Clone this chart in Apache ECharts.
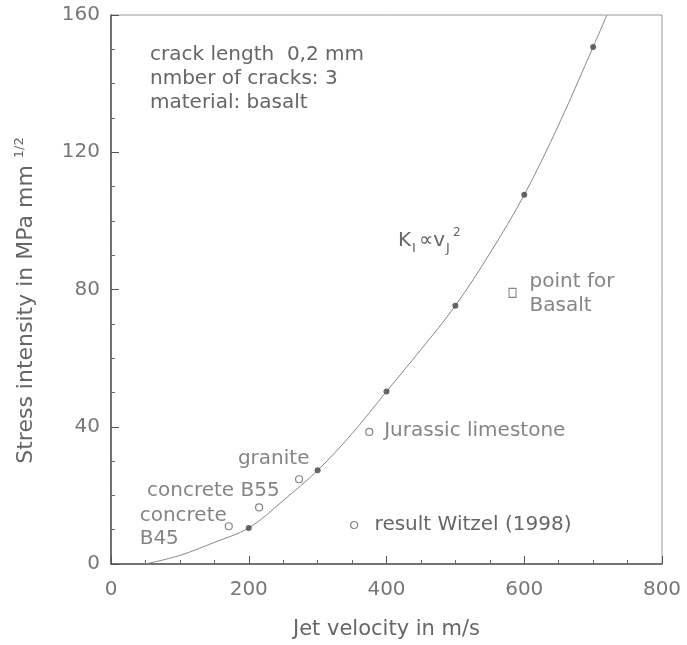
<!DOCTYPE html>
<html>
<head>
<meta charset="utf-8">
<script src="https://cdn.jsdelivr.net/npm/echarts@6/dist/echarts.min.js"></script>
<style>
  html, body { margin: 0; padding: 0; background: #fff; }
  #chart { width: 687px; height: 645px; }
</style>
</head>
<body>
<div id="chart"></div>
<script>
// Calculated stress intensity for basalt (filled dots)
const calcVelocity = [200, 300, 400, 500, 600, 700];
const calcStress = [10.5, 27.3, 50.3, 75.3, 107.6, 150.7];

// Fitted curve K_I ~ v_J^2
const curveVelocity = [50, 100, 150, 200, 250, 300, 350, 400, 450, 500, 550, 600, 650, 700, 720];
const curveStress = [0, 2.5, 6.3, 10.5, 18.5, 27.3, 38, 50.3, 62.5, 75.3, 90.5, 107.6, 128, 150.7, 160];

// Experimental results, Witzel (1998)
const witzelNames = ['concrete\nB45', 'concrete B55', 'granite', 'Jurassic limestone'];
const witzelVelocity = [171, 215, 273, 375];
const witzelStress = [11, 16.5, 24.7, 38.5];

// Single basalt point
const basaltName = 'point for\nBasalt';
const basaltVelocity = [583];
const basaltStress = [79];

const xTicks = [0, 200, 400, 600, 800];
const yTicks = [0, 40, 80, 120, 160];

const FONT = 'DejaVu Sans';
const TXT = '#666';

// label offsets for each Witzel point (relative to symbol box)
const witzelLabelPos = [[-85, 5], [-108, -12], [-57, -16], [19, 3]];

const chart = echarts.init(document.getElementById('chart'), null, { renderer: 'canvas' });

const labelStyle = { color: TXT, fontSize: 20, fontFamily: FONT };

const option = {
  backgroundColor: '#fff',
  animation: false,
  grid: {
    left: 111, right: 25, top: 15, bottom: 80,
    show: true, borderColor: '#999', borderWidth: 1
  },
  legend: {
    data: [{ name: 'result Witzel (1998)', icon: 'circle',
             itemStyle: { color: '#fff', borderColor: '#666', borderWidth: 1.2 } }],
    left: 345, top: 510,
    itemWidth: 7, itemHeight: 7,
    selectedMode: false,
    textStyle: { color: TXT, fontSize: 20, fontFamily: FONT, padding: [0, 0, 0, 12] }
  },
  xAxis: {
    type: 'value', min: xTicks[0], max: xTicks[xTicks.length - 1], interval: 200,
    name: 'Jet velocity in m/s', nameLocation: 'middle', nameGap: 55,
    nameTextStyle: { color: TXT, fontSize: 21, fontFamily: FONT },
    axisLine: { show: true, onZero: false, lineStyle: { color: '#555', width: 1.5 } },
    axisTick: { show: true, inside: true, length: 8, lineStyle: { color: '#555' } },
    minorTick: { show: true, splitNumber: 4, length: 4, lineStyle: { color: '#666' } },
    axisLabel: { color: '#777', fontSize: 20, fontFamily: FONT, margin: 16 },
    splitLine: { show: false }
  },
  yAxis: {
    type: 'value', min: yTicks[0], max: yTicks[yTicks.length - 1], interval: 40,
    name: '{t|Stress intensity in MPa mm }{s|1/2}',
    nameLocation: 'middle', nameGap: 74, nameRotate: 90,
    nameTextStyle: {
      color: TXT, fontSize: 22, fontFamily: FONT, padding: [0, 22, 0, 0],
      rich: {
        t: { color: TXT, fontSize: 22, fontFamily: FONT, lineHeight: 24, verticalAlign: 'bottom' },
        s: { color: TXT, fontSize: 13, fontFamily: FONT, lineHeight: 24, verticalAlign: 'top' }
      }
    },
    axisLine: { show: true, onZero: false, lineStyle: { color: '#555', width: 1.5 } },
    axisTick: { show: true, inside: true, length: 8, lineStyle: { color: '#555' } },
    minorTick: { show: true, splitNumber: 4, length: 4, lineStyle: { color: '#666' } },
    axisLabel: { color: '#777', fontSize: 20, fontFamily: FONT, margin: 11 },
    splitLine: { show: false }
  },
  graphic: [
    {
      type: 'text', left: 150, top: 43, silent: true,
      style: {
        text: 'crack length  0,2 mm\nnmber of cracks: 3\nmaterial: basalt',
        fill: TXT, fontSize: 20, fontFamily: FONT, lineHeight: 24
      }
    },
    {
      type: 'text', left: 398, top: 227, silent: true,
      style: {
        text: '{k|K}{s|I}{k|∝v}{s|J}{p|2}',
        fill: TXT, fontFamily: FONT,
        rich: {
          k: { fill: TXT, fontSize: 20, fontFamily: FONT, lineHeight: 28, verticalAlign: 'middle' },
          s: { fill: TXT, fontSize: 13, fontFamily: FONT, lineHeight: 28, verticalAlign: 'bottom', padding: [0, 3, 0, 1] },
          p: { fill: TXT, fontSize: 12, fontFamily: FONT, lineHeight: 24, verticalAlign: 'top' }
        }
      }
    }
  ],
  series: [
    {
      name: 'fit',
      type: 'line',
      data: curveVelocity.map((v, i) => [v, curveStress[i]]),
      smooth: 0.35,
      showSymbol: false,
      clip: true,
      lineStyle: { color: '#888', width: 1 },
      z: 2
    },
    {
      name: 'calculation',
      type: 'scatter',
      data: calcVelocity.map((v, i) => [v, calcStress[i]]),
      symbol: 'circle', symbolSize: 6,
      itemStyle: { color: '#444' },
      z: 4
    },
    {
      name: 'result Witzel (1998)',
      type: 'scatter',
      data: witzelVelocity.map((v, i) => ({
        value: [v, witzelStress[i]],
        label: Object.assign({
          show: true, formatter: witzelNames[i],
          position: witzelLabelPos[i], align: 'left', verticalAlign: 'middle', lineHeight: 23
        }, labelStyle)
      })),
      symbol: 'circle', symbolSize: 7,
      itemStyle: { color: '#fff', borderColor: '#666', borderWidth: 1.2 },
      emphasis: { disabled: true },
      z: 3
    },
    {
      name: 'basalt point',
      type: 'scatter',
      data: basaltVelocity.map((v, i) => ({
        value: [v, basaltStress[i]],
        label: Object.assign({
          show: true, formatter: basaltName,
          position: [21, 6], align: 'left', verticalAlign: 'middle', lineHeight: 23.5
        }, labelStyle)
      })),
      symbol: 'rect', symbolSize: [7, 9],
      itemStyle: { color: '#fff', borderColor: '#666', borderWidth: 1.2 },
      emphasis: { disabled: true },
      z: 3
    }
  ]
};

chart.setOption(option);
</script>
</body>
</html>
